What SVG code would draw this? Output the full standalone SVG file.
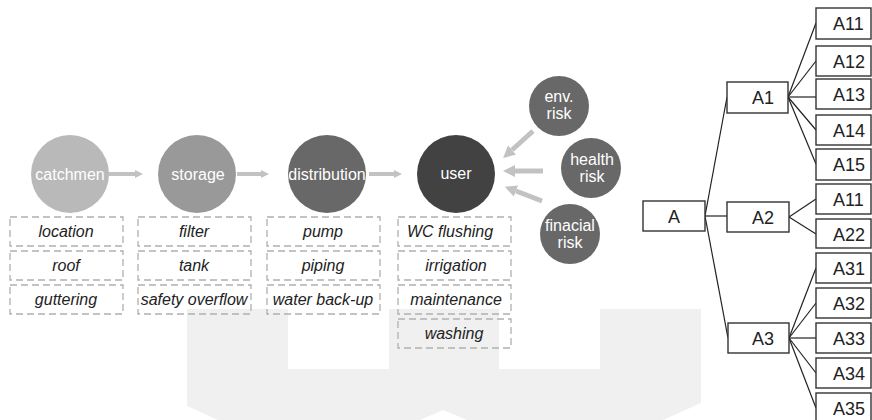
<svg xmlns="http://www.w3.org/2000/svg" width="872" height="420" viewBox="0 0 872 420">
<style>
.t{font-family:"Liberation Sans",Arial,sans-serif;}
.ct{font-family:"Liberation Sans",Arial,sans-serif;font-size:16px;fill:#ffffff;text-anchor:middle;}
.bx{fill:none;stroke:#b0b0b0;stroke-width:1.3;stroke-dasharray:7 4;}
.bt{font-family:"Liberation Sans",Arial,sans-serif;font-size:16px;font-style:italic;fill:#222222;text-anchor:middle;}
.flow{stroke:#c2c2c2;stroke-width:4;fill:none;}
.risk{stroke:#c2c2c2;stroke-width:5;fill:none;}
.tl{stroke:#222222;stroke-width:1.2;fill:none;}
.tb{fill:#ffffff;stroke:#333333;stroke-width:1.4;}
.tt{font-family:"Liberation Sans",Arial,sans-serif;font-size:18px;fill:#222222;}
</style>
<defs>
<marker id="ah" viewBox="0 0 10 10" markerUnits="userSpaceOnUse" markerWidth="10" markerHeight="8" refX="0" refY="5" orient="auto">
<path d="M0,0 L10,5 L0,10 z" fill="#c2c2c2"/>
</marker>
<marker id="ah2" viewBox="0 0 10 10" markerUnits="userSpaceOnUse" markerWidth="12" markerHeight="14" refX="0" refY="5" orient="auto">
<path d="M0,0 L10,5 L0,10 z" fill="#c2c2c2"/>
</marker>
</defs>
<rect width="872" height="420" fill="#ffffff"/>
<polygon id="watermark" points="187,309 288,309 288,369 389,369 389,309 499,309 499,369 600,369 600,309 701,309 701,403 663,420 467,420 443,410 420,420 218,420 187,406" fill="#f0f0f0"/>

<g id="connectors">
<line class="flow" x1="109" y1="174" x2="135" y2="174" marker-end="url(#ah)"/>
<line class="flow" x1="237" y1="174" x2="261" y2="174" marker-end="url(#ah)"/>
<line class="flow" x1="369" y1="174" x2="394" y2="174" marker-end="url(#ah)"/>
<line class="risk" x1="533" y1="131" x2="512" y2="150" marker-end="url(#ah2)"/>
<line class="risk" x1="543" y1="171" x2="515" y2="171" marker-end="url(#ah2)"/>
<line class="risk" x1="542" y1="201" x2="516" y2="191" marker-end="url(#ah2)"/>
<line class="tl" x1="705" y1="216" x2="727" y2="97"/>
<line class="tl" x1="705" y1="216" x2="727" y2="216"/>
<line class="tl" x1="705" y1="216" x2="728" y2="338"/>
<line class="tl" x1="788" y1="97" x2="816" y2="23"/>
<line class="tl" x1="788" y1="97" x2="816" y2="61"/>
<line class="tl" x1="788" y1="97" x2="816" y2="97"/>
<line class="tl" x1="788" y1="97" x2="816" y2="130"/>
<line class="tl" x1="788" y1="97" x2="816" y2="164"/>
<line class="tl" x1="789" y1="217" x2="816" y2="199"/>
<line class="tl" x1="789" y1="217" x2="816" y2="234"/>
<line class="tl" x1="789" y1="338" x2="816" y2="268"/>
<line class="tl" x1="789" y1="338" x2="816" y2="303"/>
<line class="tl" x1="789" y1="338" x2="816" y2="338"/>
<line class="tl" x1="789" y1="338" x2="816" y2="373"/>
<line class="tl" x1="789" y1="338" x2="816" y2="408"/>
</g>

<g id="catchmen"><circle cx="70" cy="174" r="39" fill="#b9b9b9"/><text class="ct" x="70" y="180">catchmen</text></g>
<g id="storage"><circle cx="197" cy="174" r="39" fill="#999999"/><text class="ct" x="198" y="180">storage</text></g>
<g id="distribution"><circle cx="327" cy="174" r="39" fill="#686868"/><text class="ct" x="327" y="180">distribution</text></g>
<g id="user"><circle cx="456" cy="174" r="39" fill="#424242"/><text class="ct" x="456" y="179">user</text></g>

<g id="env-risk"><circle cx="559" cy="106" r="30" fill="#686868"/><text class="ct" x="559" y="102">env.</text><text class="ct" x="559" y="119">risk</text></g>
<g id="health-risk"><circle cx="591" cy="168" r="30" fill="#686868"/><text class="ct" x="592" y="165">health</text><text class="ct" x="592" y="182">risk</text></g>
<g id="finacial-risk"><circle cx="570" cy="234" r="30" fill="#686868"/><text class="ct" x="570" y="231">finacial</text><text class="ct" x="570" y="248">risk</text></g>

<g id="box-location"><rect class="bx" x="10" y="217" width="113" height="29"/><text class="bt" x="66" y="237">location</text></g>
<g id="box-roof"><rect class="bx" x="10" y="251" width="113" height="29"/><text class="bt" x="66" y="271">roof</text></g>
<g id="box-guttering"><rect class="bx" x="10" y="285" width="113" height="29"/><text class="bt" x="66" y="305">guttering</text></g>

<g id="box-filter"><rect class="bx" x="138" y="217" width="113" height="29"/><text class="bt" x="194" y="237">filter</text></g>
<g id="box-tank"><rect class="bx" x="138" y="251" width="113" height="29"/><text class="bt" x="194" y="271">tank</text></g>
<g id="box-safety"><rect class="bx" x="138" y="285" width="113" height="29"/><text class="bt" x="194" y="305">safety overflow</text></g>

<g id="box-pump"><rect class="bx" x="267" y="217" width="113" height="29"/><text class="bt" x="323" y="237">pump</text></g>
<g id="box-piping"><rect class="bx" x="267" y="251" width="113" height="29"/><text class="bt" x="323" y="271">piping</text></g>
<g id="box-water"><rect class="bx" x="267" y="285" width="113" height="29"/><text class="bt" x="323" y="305">water back-up</text></g>

<g id="box-wc"><rect class="bx" x="398" y="217" width="113" height="29"/><text class="bt" x="450" y="237">WC flushing</text></g>
<g id="box-irrigation"><rect class="bx" x="398" y="251" width="113" height="29"/><text class="bt" x="456" y="271">irrigation</text></g>
<g id="box-maintenance"><rect class="bx" x="398" y="285" width="113" height="29"/><text class="bt" x="456" y="305">maintenance</text></g>
<g id="box-washing"><rect class="bx" x="398" y="319" width="113" height="29"/><text class="bt" x="454" y="339">washing</text></g>

<g id="node-A"><rect class="tb" x="643" y="201" width="62" height="30"/><text class="tt" x="674" y="223" text-anchor="middle">A</text></g>
<g id="node-A1"><rect class="tb" x="727" y="82" width="61" height="31"/><text class="tt" x="752" y="104">A1</text></g>
<g id="node-A2"><rect class="tb" x="727" y="202" width="62" height="30"/><text class="tt" x="752" y="224">A2</text></g>
<g id="node-A3"><rect class="tb" x="728" y="323" width="61" height="30"/><text class="tt" x="752" y="345">A3</text></g>

<g id="leaf-A11"><rect class="tb" x="816" y="8" width="55" height="31"/><text class="tt" x="833" y="30">A11</text></g>
<g id="leaf-A12"><rect class="tb" x="816" y="46" width="55" height="30"/><text class="tt" x="833" y="68">A12</text></g>
<g id="leaf-A13"><rect class="tb" x="816" y="79" width="55" height="30"/><text class="tt" x="833" y="101">A13</text></g>
<g id="leaf-A14"><rect class="tb" x="816" y="115" width="55" height="30"/><text class="tt" x="833" y="137">A14</text></g>
<g id="leaf-A15"><rect class="tb" x="816" y="149" width="55" height="31"/><text class="tt" x="833" y="171">A15</text></g>
<g id="leaf-A11b"><rect class="tb" x="816" y="184" width="55" height="30"/><text class="tt" x="833" y="206">A11</text></g>
<g id="leaf-A22"><rect class="tb" x="816" y="219" width="55" height="29"/><text class="tt" x="833" y="241">A22</text></g>
<g id="leaf-A31"><rect class="tb" x="816" y="253" width="55" height="30"/><text class="tt" x="833" y="275">A31</text></g>
<g id="leaf-A32"><rect class="tb" x="816" y="288" width="55" height="30"/><text class="tt" x="833" y="310">A32</text></g>
<g id="leaf-A33"><rect class="tb" x="816" y="323" width="55" height="30"/><text class="tt" x="833" y="345">A33</text></g>
<g id="leaf-A34"><rect class="tb" x="816" y="358" width="55" height="30"/><text class="tt" x="833" y="380">A34</text></g>
<g id="leaf-A35"><rect class="tb" x="816" y="393" width="55" height="30"/><text class="tt" x="833" y="415">A35</text></g>
</svg>
